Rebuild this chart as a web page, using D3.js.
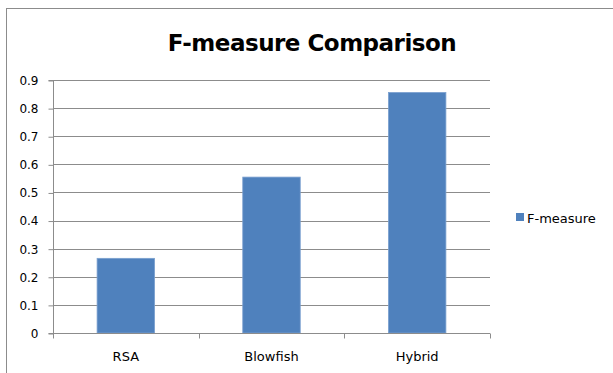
<!DOCTYPE html>
<html>
<head>
<meta charset="utf-8">
<script src="https://cdn.jsdelivr.net/npm/d3@7"></script>
<style>
  html, body { margin: 0; padding: 0; background: #fff; }
  svg { display: block; }
  text { font-family: "DejaVu Sans", Verdana, sans-serif; fill: #000; }
</style>
</head>
<body>
<svg id="chart" width="613" height="373"></svg>
<script>
// Chart data
const categories = ["RSA", "Blowfish", "Hybrid"];
const fMeasure = [0.267, 0.556, 0.857];
const yTicks = [0, 0.1, 0.2, 0.3, 0.4, 0.5, 0.6, 0.7, 0.8, 0.9];
const seriesName = "F-measure";
const chartTitle = "F-measure Comparison";

const svg = d3.select("#chart");
const plot = { left: 53, right: 490, top: 80, bottom: 333 };

// Outer chart frame
svg.append("rect")
  .attr("x", 6.5).attr("y", 8.5)
  .attr("width", 640).attr("height", 400)
  .attr("fill", "none").attr("stroke", "#8c8c8c").attr("stroke-width", 1);

const x = d3.scaleBand()
  .domain(categories)
  .range([plot.left, plot.right])
  .paddingInner(0.6)
  .paddingOuter(0.3);

const y = d3.scaleLinear()
  .domain([0, 0.9])
  .range([plot.bottom, plot.top]);

// Horizontal gridlines
svg.append("g")
  .selectAll("line")
  .data(yTicks.filter(d => d > 0))
  .join("line")
  .attr("x1", plot.left).attr("x2", plot.right)
  .attr("y1", d => Math.round(y(d)) + 0.5).attr("y2", d => Math.round(y(d)) + 0.5)
  .attr("stroke", "#8c8c8c").attr("stroke-width", 1);

// Bars
svg.append("g")
  .selectAll("rect")
  .data(categories.map((c, i) => ({ c, v: fMeasure[i] })))
  .join("rect")
  .attr("x", d => x(d.c) + 0.4)
  .attr("y", d => y(d.v) + 0.4)
  .attr("width", x.bandwidth() - 0.8)
  .attr("height", d => y(0) - y(d.v) - 0.4)
  .attr("fill", "#4f81bd")
  .attr("stroke", "#7aa0cf").attr("stroke-width", 0.8);

// Y axis
const yAxis = d3.axisLeft(y)
  .tickValues(yTicks)
  .tickFormat(d => d === 0 ? "0" : d3.format(".1f")(d))
  .tickSize(5)
  .tickPadding(10);
const yg = svg.append("g")
  .attr("transform", `translate(${plot.left + 0.5},0.5)`)
  .call(yAxis);
yg.selectAll("path, line").attr("stroke", "#8c8c8c");
yg.select(".domain").attr("d", `M-5,${plot.top}H0V${plot.bottom}H-5`);
yg.selectAll("text").attr("font-size", 12).attr("fill", "#000");

// X axis with boundary ticks between categories
const xg = svg.append("g").attr("transform", `translate(0,${plot.bottom + 0.5})`);
xg.append("line")
  .attr("x1", plot.left).attr("x2", plot.right)
  .attr("stroke", "#8c8c8c");
const step = x.step();
const bounds = d3.range(categories.length + 1).map(i => plot.left + i * step);
xg.selectAll(".bt")
  .data(bounds)
  .join("line")
  .attr("x1", d => Math.round(d) + 0.5).attr("x2", d => Math.round(d) + 0.5)
  .attr("y1", 0).attr("y2", 5)
  .attr("stroke", "#8c8c8c");
xg.selectAll("text")
  .data(categories)
  .join("text")
  .attr("x", d => x(d) + x.bandwidth() / 2)
  .attr("y", 27)
  .attr("text-anchor", "middle")
  .attr("font-size", 13)
  .text(d => d);

// Title
svg.append("text")
  .attr("x", 312).attr("y", 51)
  .attr("text-anchor", "middle")
  .attr("font-family", "'Open Sans', sans-serif")
  .attr("font-weight", "bold")
  .attr("font-size", 23)
  .attr("letter-spacing", -0.5)
  .text(chartTitle);

// Legend
const lg = svg.append("g").attr("transform", "translate(516,213)");
lg.append("rect").attr("width", 8).attr("height", 8).attr("fill", "#4f81bd");
lg.append("text").attr("x", 11).attr("y", 9.5).attr("font-size", 13).text(seriesName);
</script>
</body>
</html>
